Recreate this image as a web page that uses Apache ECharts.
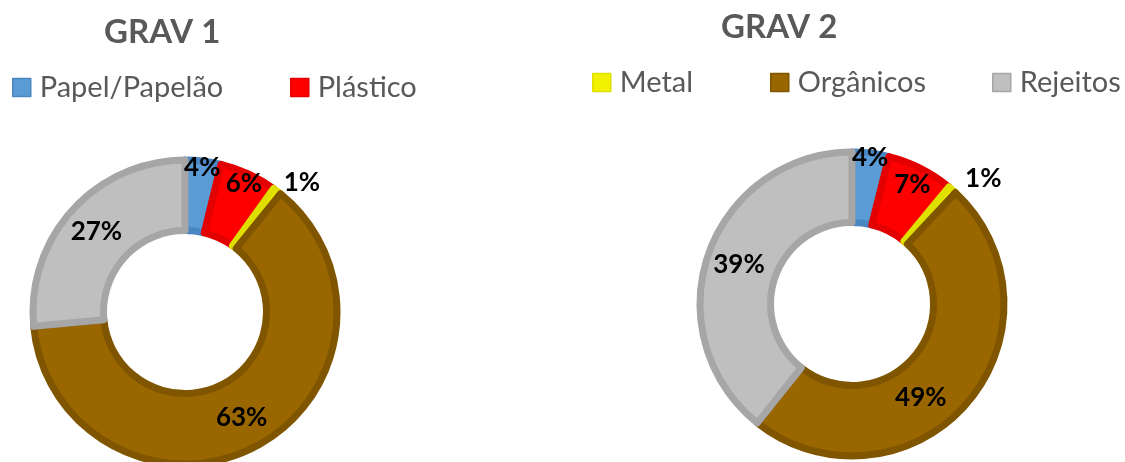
<!DOCTYPE html>
<html><head><meta charset="utf-8">
<script src="https://cdn.jsdelivr.net/npm/echarts@6/dist/echarts.min.js"></script>
<style>html,body{margin:0;padding:0;background:#fff}#c{width:1125px;height:462px}</style>
</head><body><div id="c"></div>
<script>
// ---- data ----
const categories = ['Papel/Papelão', 'Plástico', 'Metal', 'Orgânicos', 'Rejeitos'];
const chartTitles = ['GRAV 1', 'GRAV 2'];
const grav1Values = [3.8, 6.1, 0.9, 62.7, 26.5];
const grav2Values = [3.9, 7.1, 0.9, 48.8, 39.3];

// ---- style / layout ----
const fills   = ['#5b9bd5', '#ff0000', '#f2f200', '#996600', '#bfbfbf'];
const borders = ['#4a86c2', '#e20000', '#e0e000', '#7f5500', '#a6a6a6'];
const FONT = 'Lato';
const legendLeft = [12, 290, 592, 770, 992];
const legendTop  = [73, 73, 68, 68, 68];

const charts = [
  { center: [185, 312], smallR: [142, 138], metalLen: 11, metalDist: 0, nudge: null },
  { center: [852, 304], smallR: [145, 131], metalLen: 15, metalDist: 3, nudge: { idx: 3, dx: -22, dy: 16 } }
];
const allValues = [grav1Values, grav2Values];

const pctLabel = p => Math.round(p.value) + '%';
const labelText = { fontFamily: FONT, fontWeight: 'bold', fontSize: 26, color: '#000' };

const series = [];
charts.forEach((c, k) => {
  const values = allValues[k];
  const mainData = categories.map((name, i) => {
    const d = { name, value: values[i], itemStyle: { color: fills[i], borderColor: borders[i] } };
    if (i < 2) d.label = { show: false };
    if (i === 2) d.label = { position: 'outside', distanceToLabelLine: c.metalDist };
    if (i === 2) d.labelLine = { show: false, length: c.metalLen, length2: 0 };
    return d;
  });
  series.push({
    type: 'pie', center: c.center, radius: [81.5, 152], startAngle: 90, clockwise: true,
    avoidLabelOverlap: false, animation: false,
    itemStyle: { borderWidth: 7 },
    label: Object.assign({ show: true, position: 'inside', formatter: pctLabel }, labelText),
    labelLine: { show: false },
    emphasis: { disabled: true },
    labelLayout: c.nudge ? (p => (p.dataIndex === c.nudge.idx ? { dx: c.nudge.dx, dy: c.nudge.dy } : {})) : undefined,
    data: mainData
  });
  // transparent overlays that carry the labels of the thin slices
  c.smallR.forEach((r, idx) => {
    series.push({
      type: 'pie', center: c.center, radius: [0, 2 * r], startAngle: 90, clockwise: true,
      silent: true, animation: false, avoidLabelOverlap: false,
      itemStyle: { color: 'rgba(0,0,0,0)', borderWidth: 0 },
      label: Object.assign({ show: false, position: 'inside', formatter: pctLabel }, labelText),
      labelLine: { show: false },
      emphasis: { disabled: true },
      data: categories.map((name, i) => ({ name, value: values[i], label: { show: i === idx } }))
    });
  });
});

const legends = categories.map((name, i) => ({
  data: [name], left: legendLeft[i], top: legendTop[i], orient: 'horizontal', padding: 0,
  icon: 'rect', itemWidth: 18, itemHeight: 18, selectedMode: false,
  itemStyle: { borderWidth: 1.5 },
  textStyle: { fontFamily: FONT, fontSize: 29, color: '#595959', padding: [0, 0, 0, 4] }
}));

const option = {
  backgroundColor: '#fff',
  animation: false,
  title: [
    { text: chartTitles[0], left: 104, top: 16, padding: 0, textStyle: { fontFamily: FONT, fontWeight: 'bold', fontSize: 33, color: '#595959' } },
    { text: chartTitles[1], left: 721, top: 11, padding: 0, textStyle: { fontFamily: FONT, fontWeight: 'bold', fontSize: 33, color: '#595959' } }
  ],
  legend: legends,
  series: series
};
const chart = echarts.init(document.getElementById('c'), null, { renderer: 'canvas' });
chart.setOption(option);
</script></body></html>
